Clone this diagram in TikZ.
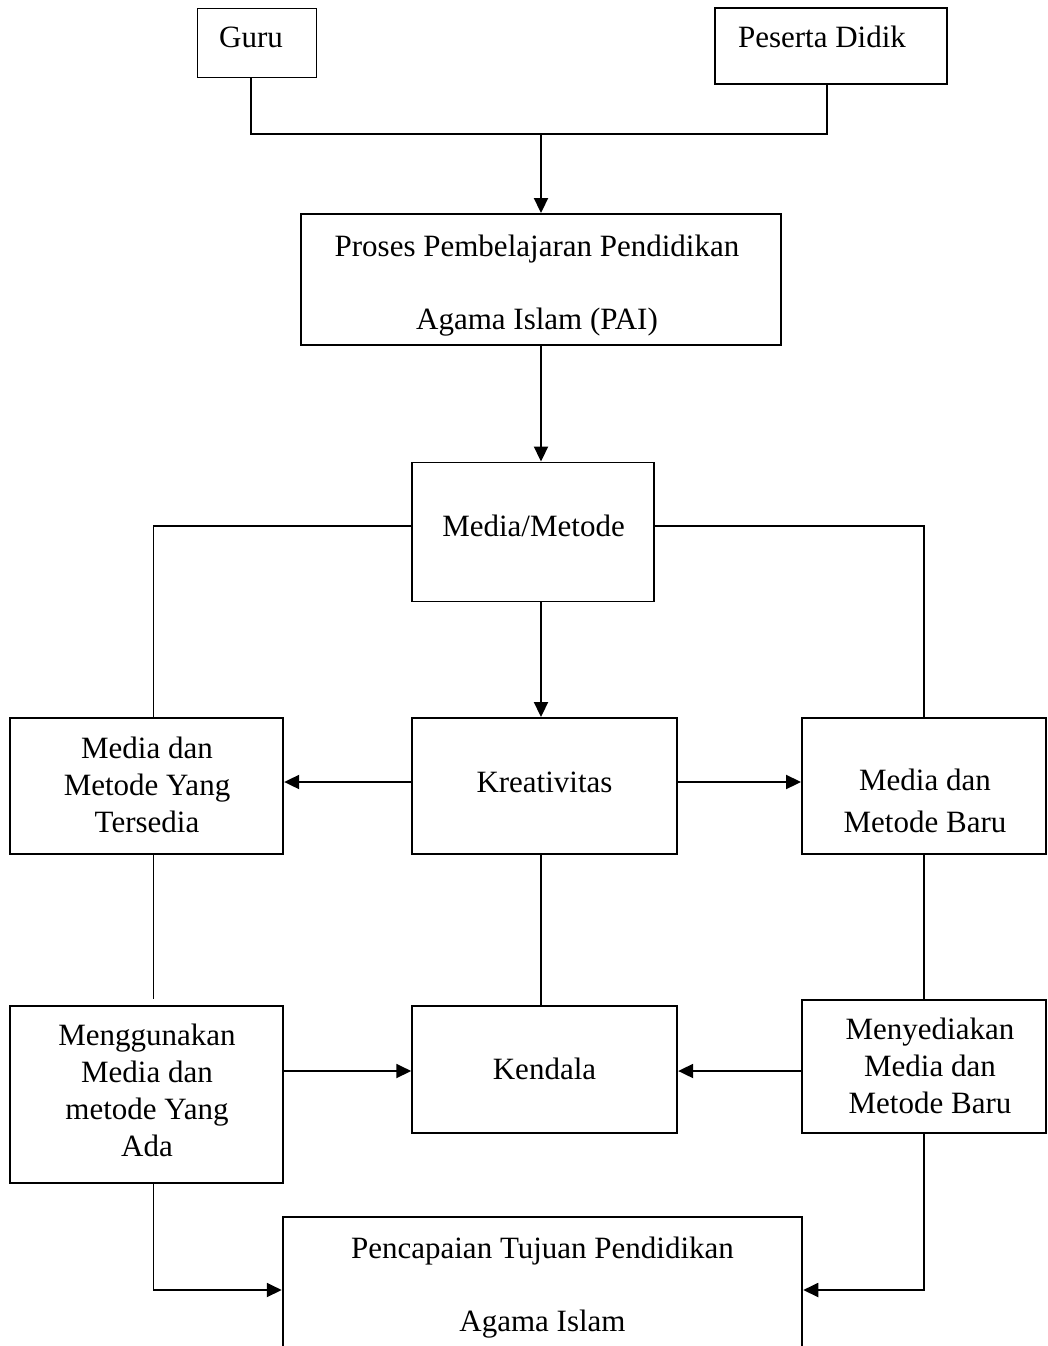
\documentclass[tikz,border=0pt]{standalone}
\usepackage{fontspec}
\setmainfont{Liberation Serif}
\usetikzlibrary{arrows.meta}
\begin{document}
\begin{tikzpicture}[x=1pt,y=-1pt,
  box/.style={draw, line width=1.9pt, inner sep=0pt},
  txt/.style={font=\fontsize{31}{37}\selectfont, align=center, anchor=base, inner sep=0pt},
  conn/.style={line width=1.9pt},
  arr/.style={conn, -{Triangle[length=15pt,width=14pt]}}]
\useasboundingbox (0,0) rectangle (1048,1346);
\clip (0,0) rectangle (1048,1346);
% boxes
\node[box, minimum width=119pt, minimum height=69pt] (guru) at (257,43) {};
\node[box, minimum width=232pt, minimum height=76pt] (pd) at (831,46) {};
\node[box, minimum width=480pt, minimum height=131pt] (pai) at (541,279.5) {};
\node[box, minimum width=242pt, minimum height=139pt] (mm) at (533,532) {};
\node[box, minimum width=265pt, minimum height=136pt] (kr) at (544.5,786) {};
\node[box, minimum width=273pt, minimum height=136pt] (lt) at (146.7,786) {};
\node[box, minimum width=244pt, minimum height=136pt] (rb) at (924,786) {};
\node[box, minimum width=273pt, minimum height=177pt] (meng) at (146.7,1094.3) {};
\node[box, minimum width=265pt, minimum height=127pt] (kend) at (544.7,1069.7) {};
\node[box, minimum width=244pt, minimum height=133pt] (meny) at (924,1066.7) {};
\node[box, minimum width=519.6pt, minimum height=160pt] (tuj) at (542.5,1297.3) {};
% texts
\node[txt] (tguru) at (251,48) {Guru};
\node[txt] (tpd) at (822,48) {Peserta Didik};
\node[txt] (tpai) at (537,329) {Proses Pembelajaran Pendidikan\\[36pt]Agama Islam (PAI)};
\node[txt] (tmm) at (533.5,536) {Media/Metode};
\node[txt] (tkr) at (544.5,792) {Kreativitas};
\node[txt] (tlt) at (147,832) {Media dan\\Metode Yang\\Tersedia};
\node[txt] (trb) at (925,832) {Media dan\\[5pt]Metode Baru};
\node[txt] (tmeng) at (147,1156) {Menggunakan\\Media dan\\metode Yang\\Ada};
\node[txt] (tkend) at (544.5,1079) {Kendala};
\node[txt] (tmeny) at (930,1113) {Menyediakan\\Media dan\\Metode Baru};
\node[txt] (ttuj) at (542.5,1331) {Pencapaian Tujuan Pendidikan\\[36pt]Agama Islam};
% junction coordinates
\coordinate (j1) at (251.3,134);
\coordinate (j2) at (826.7,134);
\coordinate (jm) at (541,134);
\coordinate (ml) at (153.5,526);
\coordinate (mr) at (924,526);
\coordinate (ya) at (0,782);
\coordinate (yb) at (0,1071);
\coordinate (gapend) at (153.5,999);
\coordinate (yc) at (0,1290);
% connectors
\draw[conn] (guru.south -| j1) -- (j1) -- (j2) -- (pd.south -| j2);
\draw[arr] (jm) -- (pai.north);
\draw[arr] (pai.south) -- (mm.north -| pai.south);
\draw[conn] (mm.west |- ml) -- (ml) -- (lt.north -| ml);
\draw[conn] (mm.east |- mr) -- (mr) -- (rb.north);
\draw[arr] (mm.south -| pai.south) -- (kr.north -| pai.south);
\draw[arr] (kr.west |- ya) -- (lt.east |- ya);
\draw[arr] (kr.east |- ya) -- (rb.west |- ya);
\draw[conn] (lt.south -| gapend) -- (gapend);
\draw[conn] (kr.south -| pai.south) -- (kend.north -| pai.south);
\draw[conn] (rb.south) -- (meny.north);
\draw[arr] (meng.east |- yb) -- (kend.west |- yb);
\draw[arr] (meny.west |- yb) -- (kend.east |- yb);
\draw[arr] (meng.south -| gapend) -- (gapend |- yc) -- (tuj.west |- yc);
\draw[arr] (meny.south) -- (meny.south |- yc) -- (tuj.east |- yc);
\end{tikzpicture}
\end{document}
